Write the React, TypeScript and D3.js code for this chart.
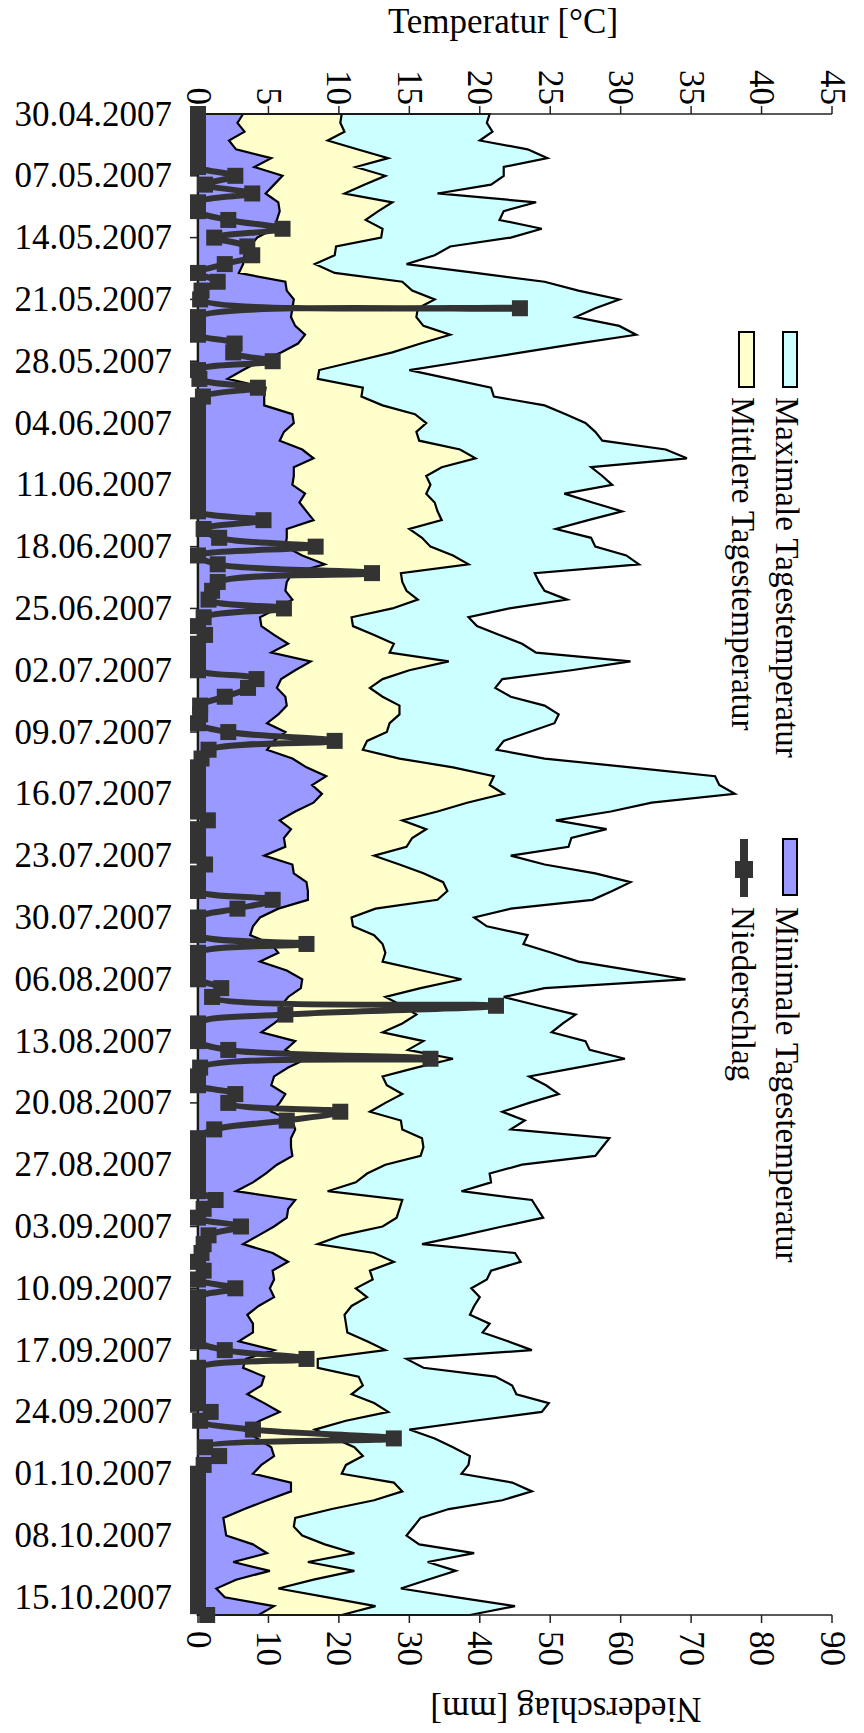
import React from "react";
import * as d3 from "d3";

// Daily weather record, 30.04.2007 – 17.10.2007
const START = new Date(2007, 3, 30);
const END = new Date(2007, 9, 17);
const days: Date[] = d3.timeDay.range(START, d3.timeDay.offset(END, 1));

const tempMax = [
  20.7, 20.5, 20.9, 20.0, 23.4, 24.8, 21.7, 21.7, 20.8, 17.0,
  24.0, 21.7, 21.4, 24.4, 22.2, 17.9, 16.8, 14.8, 19.7, 24.6,
  27.0, 29.9, 28.2, 26.8, 29.9, 31.1, 26.9, 23.0, 19.0, 15.0,
  17.9, 20.8, 21.0, 24.6, 26.1, 27.5, 28.2, 28.7, 33.2, 34.7,
  27.9, 28.7, 29.4, 26.0, 28.0, 30.1, 27.7, 25.4, 27.9, 28.2,
  30.4, 31.3, 23.9, 24.2, 24.6, 26.2, 22.1, 19.2, 19.8, 21.4,
  23.0, 24.0, 30.7, 26.5, 21.6, 21.1, 22.2, 24.6, 25.6, 25.3,
  23.5, 21.7, 21.2, 24.6, 30.7, 36.7, 37.0, 38.1, 32.2, 29.3,
  25.4, 29.0, 26.5, 26.3, 22.2, 24.6, 28.2, 30.7, 29.4, 28.0,
  22.2, 19.6, 20.5, 23.4, 23.1, 25.1, 27.0, 30.8, 34.6, 24.6,
  21.7, 24.2, 26.8, 25.9, 25.1, 27.5, 27.8, 30.3, 26.9, 23.5,
  24.7, 25.6, 23.5, 21.6, 23.2, 22.2, 29.2, 28.7, 28.2, 23.0,
  20.7, 20.8, 18.7, 23.7, 24.1, 24.5, 21.6, 18.8, 15.9, 22.5,
  22.9, 20.8, 20.5, 19.4, 20.0, 19.6, 19.3, 20.7, 20.2, 22.0,
  23.7, 14.8, 16.0, 21.1, 22.3, 22.6, 24.9, 24.4, 19.6, 15.0,
  16.8, 18.1, 19.3, 19.2, 18.7, 22.3, 23.7, 21.6, 17.8, 15.8,
  15.3, 14.8, 15.7, 19.6, 16.3, 18.3, 16.3, 14.4, 18.4, 22.5,
  19.3,
];

const tempMean = [
  10.2, 10.1, 10.4, 9.2, 11.3, 13.5, 11.2, 13.3, 11.8, 10.4,
  13.8, 12.8, 11.9, 13.1, 13.0, 9.8, 9.7, 8.3, 9.7, 14.5,
  15.2, 16.8, 15.6, 15.5, 16.0, 17.9, 15.8, 13.8, 11.2, 8.6,
  8.5, 11.7, 11.6, 13.1, 15.4, 16.2, 15.5, 15.7, 18.6, 19.7,
  17.3, 16.2, 16.5, 16.2, 16.8, 17.0, 17.3, 15.0, 15.9, 16.5,
  18.1, 19.2, 14.4, 14.5, 14.8, 15.6, 13.8, 10.9, 11.0, 12.5,
  13.9, 13.6, 17.8, 15.0, 13.1, 12.2, 13.1, 14.3, 14.3, 13.6,
  13.4, 12.0, 11.7, 14.3, 18.1, 21.0, 20.7, 21.7, 19.1, 17.0,
  14.5, 16.2, 15.2, 14.8, 12.5, 14.3, 16.0, 17.4, 17.7, 17.0,
  12.6, 10.9, 11.0, 12.5, 13.1, 13.3, 13.1, 15.9, 18.7, 15.8,
  13.3, 14.5, 15.5, 14.5, 13.1, 16.0, 14.9, 18.1, 15.5, 13.1,
  13.4, 14.5, 13.3, 12.2, 14.4, 14.5, 15.9, 16.0, 15.8, 13.3,
  12.0, 11.2, 9.2, 14.5, 14.3, 14.1, 13.1, 10.2, 8.5, 12.5,
  13.9, 12.2, 12.4, 11.2, 12.0, 10.9, 10.4, 10.5, 10.6, 12.0,
  13.3, 8.5, 8.5, 11.4, 11.7, 10.9, 12.5, 13.5, 10.5, 8.3,
  9.7, 11.1, 11.7, 10.5, 10.2, 13.9, 14.5, 12.5, 9.5, 6.9,
  6.8, 7.4, 9.0, 11.1, 7.8, 11.1, 8.2, 5.7, 9.2, 12.6,
  10.2,
];

const tempMin = [
  3.2, 2.8, 3.3, 2.2, 2.7, 5.2, 4.0, 6.0, 5.4, 4.8,
  5.7, 5.8, 5.6, 5.4, 4.2, 3.7, 3.3, 3.2, 2.9, 6.2,
  6.3, 6.8, 6.7, 6.6, 6.9, 7.6, 7.1, 5.9, 4.4, 3.2,
  2.1, 4.8, 4.7, 4.7, 6.7, 6.8, 6.1, 5.8, 7.4, 8.2,
  6.8, 6.8, 6.7, 7.6, 7.2, 7.7, 8.2, 6.3, 6.3, 6.2,
  7.4, 9.0, 6.7, 6.3, 6.2, 6.7, 5.6, 4.4, 4.5, 5.4,
  6.4, 5.2, 8.0, 6.9, 5.9, 5.6, 6.2, 6.3, 5.7, 4.9,
  6.2, 5.4, 4.9, 6.7, 7.7, 9.1, 8.1, 8.8, 8.2, 6.9,
  5.8, 6.6, 6.1, 6.2, 4.7, 6.7, 6.8, 7.7, 7.8, 7.8,
  5.7, 4.4, 3.9, 3.7, 5.2, 5.7, 4.4, 6.3, 7.4, 7.3,
  6.4, 5.9, 6.2, 5.4, 4.5, 6.9, 6.2, 7.7, 6.4, 5.4,
  5.2, 6.2, 5.8, 5.2, 6.7, 6.9, 6.6, 6.6, 6.7, 5.6,
  4.8, 3.9, 2.7, 6.9, 6.4, 6.3, 5.4, 4.3, 3.2, 5.3,
  6.4, 5.3, 5.4, 5.1, 5.4, 4.3, 3.5, 3.9, 3.9, 2.9,
  5.4, 3.4, 3.2, 4.7, 4.5, 3.5, 4.7, 5.8, 4.4, 3.2,
  4.2, 5.2, 5.4, 4.5, 3.9, 6.6, 6.6, 4.9, 3.3, 1.8,
  1.9, 2.0, 3.9, 4.9, 2.5, 5.1, 2.7, 1.3, 1.9, 5.4,
  4.3,
];

const precip = [
  0, 0, 0, 0, 0, 0, 0, 5.3, 1.0, 7.7,
  0, 0, 4.3, 12.0, 2.3, 7.0, 7.7, 3.8, 0, 2.8,
  0.5, 0.3, 45.7, 0, 0, 0, 5.2, 5.0, 10.6, 0,
  0.2, 8.5, 0.7, 0, 0, 0, 0, 0, 0, 0,
  0, 0, 0, 0, 0, 0, 9.3, 0.8, 3.0, 16.7,
  0, 2.8, 24.7, 2.8, 2.0, 1.5, 12.2, 0.8, 0, 1.0,
  0, 0, 0, 0, 8.3, 7.1, 3.8, 0.3, 0.3, 0,
  4.3, 19.4, 1.5, 0.5, 0, 0, 0, 0, 0, 0,
  1.4, 0, 0, 0, 0, 1.0, 0, 0, 0, 10.6,
  5.6, 0, 0, 0, 15.4, 0, 0, 0, 0, 3.3,
  2.0, 42.3, 12.4, 0, 0, 0, 4.3, 33.0, 0.3, 0,
  0, 5.3, 4.3, 20.2, 12.6, 2.3, 0, 0, 0, 0,
  0, 0, 0, 2.5, 0.8, 0, 6.1, 1.5, 0.8, 0.5,
  0, 0.8, 0, 5.3, 0, 0, 0, 0, 0, 0,
  3.8, 15.4, 0, 0, 0, 0, 0, 1.8, 0.3, 7.8,
  27.8, 1.0, 3.0, 0.8, 0, 0, 0, 0, 0, 0,
  0, 0, 0, 0, 0, 0, 0, 0, 0, 0,
  1.3,
];

const tempTicks = [0, 5, 10, 15, 20, 25, 30, 35, 40, 45];
const precipTicks = [0, 10, 20, 30, 40, 50, 60, 70, 80, 90];
const weekLabels = [
  "30.04.2007", "07.05.2007", "14.05.2007", "21.05.2007", "28.05.2007",
  "04.06.2007", "11.06.2007", "18.06.2007", "25.06.2007", "02.07.2007",
  "09.07.2007", "16.07.2007", "23.07.2007", "30.07.2007", "06.08.2007",
  "13.08.2007", "20.08.2007", "27.08.2007", "03.09.2007", "10.09.2007",
  "17.09.2007", "24.09.2007", "01.10.2007", "08.10.2007", "15.10.2007",
];

const FONT = "'Liberation Serif', 'Times New Roman', serif";
const W = 864;
const H = 1733;
const LEFT = 198;
const RIGHT = 832;
const TOP = 114;
const BOTTOM = 1615;

const C_MAX = "#CCFFFF";
const C_MEAN = "#FFFFCC";
const C_MIN = "#9999FF";
const C_RAIN = "#333333";

export default function App() {
  const parse = d3.timeParse("%d.%m.%Y");
  const y = d3.scaleTime().domain([START, END]).range([TOP, BOTTOM]);
  const tx = d3.scaleLinear().domain([0, 45]).range([LEFT, RIGHT]);
  const px = d3.scaleLinear().domain([0, 90]).range([LEFT, RIGHT]);

  const areaFor = (vals: number[]) =>
    d3
      .area<Date>()
      .y((d) => y(d))
      .x0(tx(0))
      .x1((_, i) => tx(vals[i]))(days) + "Z";

  // smoothed precipitation line
  const rainLine = d3
    .line<Date>()
    .x((_, i) => px(precip[i]))
    .y((d) => y(d))
    .curve(d3.curveCatmullRom.alpha(0.5))(days);

  const series = [
    { vals: tempMax, fill: C_MAX },
    { vals: tempMean, fill: C_MEAN },
    { vals: tempMin, fill: C_MIN },
  ];

  const MS = 16;

  return (
    <>
      <style>{`body{margin:0}`}</style>
      <svg width={W} height={H} style={{ display: "block", background: "#fff" }} fontFamily={FONT}>
        {/* temperature areas, maximum at the back */}
        {series.map((s, i) => (
          <path key={i} d={areaFor(s.vals)} fill={s.fill} stroke="#000" strokeWidth={2.2} strokeLinejoin="miter" />
        ))}

        {/* axes */}
        <g stroke="#222" strokeWidth={1.5} fill="none">
          <line x1={LEFT} x2={RIGHT} y1={TOP} y2={TOP} />
          <line x1={LEFT} x2={RIGHT} y1={BOTTOM} y2={BOTTOM} />
          <line x1={LEFT} x2={LEFT} y1={TOP} y2={BOTTOM} />
          {tempTicks.map((t) => (
            <line key={"tt" + t} x1={tx(t)} x2={tx(t)} y1={TOP} y2={TOP - 8} />
          ))}
          {precipTicks.map((t) => (
            <line key={"pt" + t} x1={px(t)} x2={px(t)} y1={BOTTOM} y2={BOTTOM + 8} />
          ))}
          {weekLabels.map((l) => (
            <line key={"wt" + l} x1={LEFT - 8} x2={LEFT} y1={y(parse(l)!)} y2={y(parse(l)!)} />
          ))}
        </g>

        {/* precipitation */}
        <path d={rainLine!} fill="none" stroke={C_RAIN} strokeWidth={6} strokeLinejoin="round" />
        {days.map((d, i) => (
          <rect
            key={"m" + i}
            x={px(precip[i]) - MS / 2}
            y={y(d) - MS / 2}
            width={MS}
            height={MS}
            fill={C_RAIN}
          />
        ))}

        {/* tick labels */}
        <g fontSize={35} fill="#000">
          {tempTicks.map((t) => (
            <text key={"tl" + t} transform={`translate(${tx(t)},105) rotate(90)`} textAnchor="end" dominantBaseline="central">
              {t}
            </text>
          ))}
          {precipTicks.map((t) => (
            <text key={"pl" + t} transform={`translate(${px(t)},1631) rotate(90)`} textAnchor="start" dominantBaseline="central">
              {t}
            </text>
          ))}
          {weekLabels.map((l) => (
            <text key={"wl" + l} x={172} y={y(parse(l)!)} textAnchor="end" dominantBaseline="central">
              {l}
            </text>
          ))}
        </g>

        {/* axis titles */}
        <text x={503} y={33} fontSize={35} textAnchor="middle">
          Temperatur [°C]
        </text>
        <text transform="translate(566,1698) rotate(180)" fontSize={35} textAnchor="middle">
          Niederschlag [mm]
        </text>

        {/* legend */}
        <g fontSize={33}>
          <rect x={783} y={332} width={14} height={55} fill={C_MAX} stroke="#000" strokeWidth={2} />
          <text transform="translate(776,397) rotate(90)">Maximale Tagestemperatur</text>
          <rect x={739} y={332} width={15} height={55} fill={C_MEAN} stroke="#000" strokeWidth={2} />
          <text transform="translate(732,397) rotate(90)">Mittlere Tagestemperatur</text>
          <rect x={783} y={839} width={14} height={56} fill={C_MIN} stroke="#000" strokeWidth={2} />
          <text transform="translate(776,907) rotate(90)">Minimale Tagestemperatur</text>
          <line x1={744} x2={744} y1={839} y2={897} stroke={C_RAIN} strokeWidth={8} />
          <rect x={735} y={861} width={18} height={17} fill={C_RAIN} />
          <text transform="translate(732,907) rotate(90)">Niederschlag</text>
        </g>
      </svg>
    </>
  );
}
